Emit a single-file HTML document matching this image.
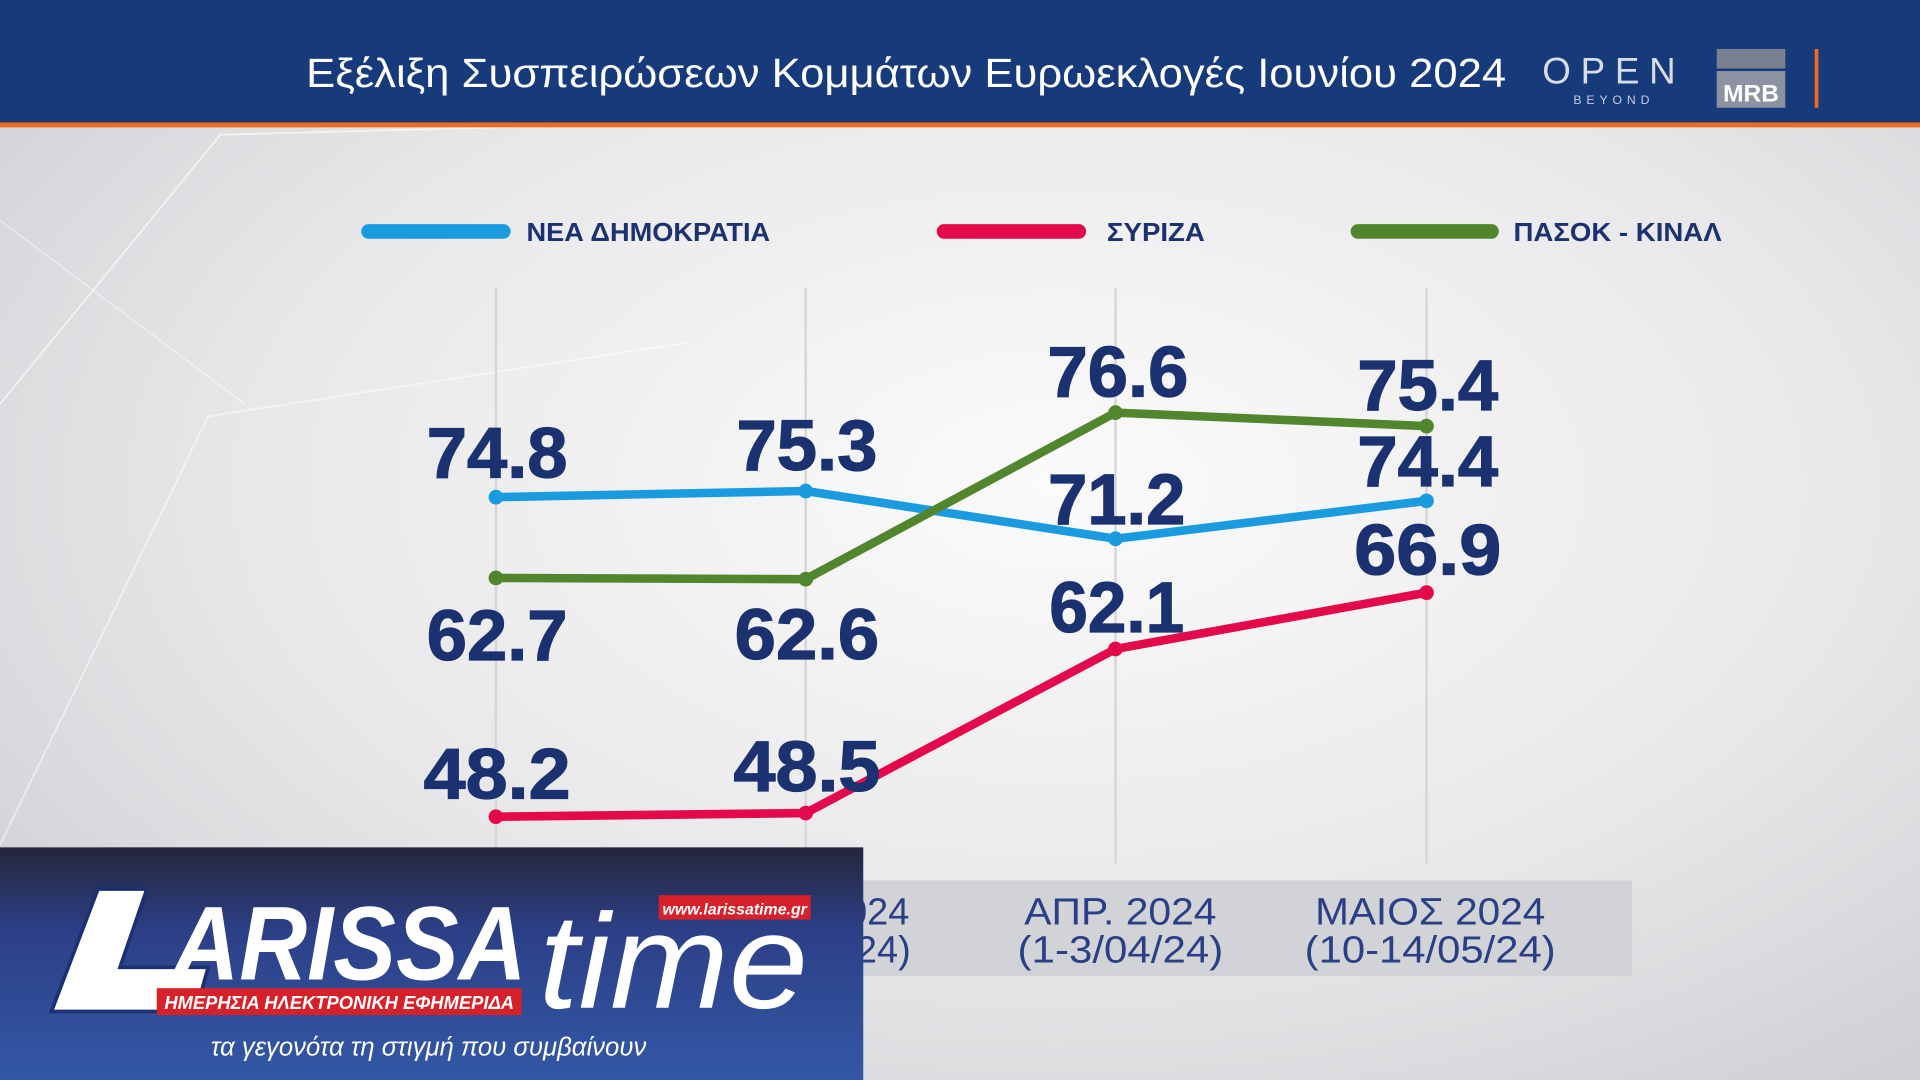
<!DOCTYPE html>
<html><head><meta charset="utf-8"><style>
html,body{margin:0;padding:0;width:1920px;height:1080px;overflow:hidden;background:#e6e6e8}
svg{display:block}
text{font-family:"Liberation Sans","DejaVu Sans",sans-serif}
</style></head><body>
<svg width="1920" height="1080" viewBox="0 0 1568 882" preserveAspectRatio="none">
<defs>
<radialGradient id="bg" cx="0.55" cy="0.45" r="0.7">
<stop offset="0" stop-color="#fbfbfb"/><stop offset="0.6" stop-color="#e8e8ea"/><stop offset="1" stop-color="#cfd0d4"/>
</radialGradient>
<linearGradient id="logo" x1="0" y1="0" x2="0" y2="1">
<stop offset="0" stop-color="#25263a"/><stop offset="0.35" stop-color="#2c3f86"/><stop offset="1" stop-color="#3358a6"/>
</linearGradient>
</defs>
<rect width="1568" height="882" fill="url(#bg)"/>
<polyline points="0,330 180,110 560,100" fill="none" stroke="#ffffff" stroke-width="1.5" opacity="0.6"/>
<polyline points="0,690 170,340 560,280" fill="none" stroke="#ffffff" stroke-width="1.5" opacity="0.5"/>
<line x1="0" y1="180" x2="200" y2="330" stroke="#fff" stroke-width="1" opacity="0.5"/>
<rect width="1568" height="101" fill="#163a7a"/>
<rect y="100" width="1568" height="4" fill="#f26a21"/>
<text x="1230" y="71" text-anchor="end" font-size="33" fill="#fff" textLength="980" lengthAdjust="spacingAndGlyphs">Εξέλιξη Συσπειρώσεων Κομμάτων Ευρωεκλογές Ιουνίου 2024</text>
<text x="1318" y="68" text-anchor="middle" font-size="30" fill="#d8dce8" letter-spacing="8">OPEN</text>
<text x="1318" y="85" text-anchor="middle" font-size="10" fill="#c8cce0" letter-spacing="4">BEYOND</text>
<rect x="1402" y="40" width="56" height="16" fill="#7a8090"/>
<rect x="1402" y="58" width="56" height="30" fill="#8c92a2"/>
<text x="1430" y="83" text-anchor="middle" font-size="20" font-weight="bold" fill="#fff">MRB</text>
<rect x="1482" y="40" width="3" height="48" fill="#f26a21"/>
<line x1="301" y1="189" x2="411" y2="189" stroke="#1a9be0" stroke-width="12" stroke-linecap="round"/>
<text x="430" y="197" font-size="21" font-weight="bold" fill="#1b3170" textLength="199" lengthAdjust="spacingAndGlyphs">ΝΕΑ ΔΗΜΟΚΡΑΤΙΑ</text>
<line x1="771" y1="189" x2="881" y2="189" stroke="#e3094b" stroke-width="12" stroke-linecap="round"/>
<text x="904" y="197" font-size="21" font-weight="bold" fill="#1b3170" textLength="80" lengthAdjust="spacingAndGlyphs">ΣΥΡΙΖΑ</text>
<line x1="1109" y1="189" x2="1218" y2="189" stroke="#52862e" stroke-width="12" stroke-linecap="round"/>
<text x="1236" y="197" font-size="21" font-weight="bold" fill="#1b3170" textLength="170" lengthAdjust="spacingAndGlyphs">ΠΑΣΟΚ - ΚΙΝΑΛ</text>
<g stroke="#d4d6da" stroke-width="2">
<line x1="405" y1="235" x2="405" y2="705"/><line x1="658" y1="235" x2="658" y2="705"/>
<line x1="911" y1="235" x2="911" y2="705"/><line x1="1165" y1="235" x2="1165" y2="705"/>
</g>
<rect x="690" y="719" width="643" height="78" fill="#d2d3d7"/>
<g font-size="31" fill="#2a3f86" text-anchor="middle">
<text x="668" y="755">ΜΑΡ. 2024</text><text x="668" y="786">(1-3/03/24)</text>
<text x="915" y="755" textLength="157" lengthAdjust="spacingAndGlyphs">ΑΠΡ. 2024</text><text x="915" y="786" textLength="168" lengthAdjust="spacingAndGlyphs">(1-3/04/24)</text>
<text x="1168" y="755" textLength="188" lengthAdjust="spacingAndGlyphs">ΜΑΙΟΣ 2024</text><text x="1168" y="786" textLength="205" lengthAdjust="spacingAndGlyphs">(10-14/05/24)</text>
</g>
<g fill="none" stroke-width="7" stroke-linejoin="round" stroke-linecap="round">
<polyline points="405,406 658,401 911,440 1165,409" stroke="#1a9be0"/>
<polyline points="405,472 658,473 911,337 1165,348" stroke="#52862e"/>
<polyline points="405,667 658,664 911,530 1165,484" stroke="#e3094b"/>
</g>
<g fill="#1a9be0"><circle cx="405" cy="406" r="6"/><circle cx="658" cy="401" r="6"/><circle cx="911" cy="440" r="6"/><circle cx="1165" cy="409" r="6"/></g>
<g fill="#52862e"><circle cx="405" cy="472" r="6"/><circle cx="658" cy="473" r="6"/><circle cx="911" cy="337" r="6"/><circle cx="1165" cy="348" r="6"/></g>
<g fill="#e3094b"><circle cx="405" cy="667" r="6"/><circle cx="658" cy="664" r="6"/><circle cx="911" cy="530" r="6"/><circle cx="1165" cy="484" r="6"/></g>
<g font-size="58" font-weight="bold" fill="#1b3170" text-anchor="middle" stroke="#1b3170" stroke-width="1">
<text x="406" y="390" textLength="115" lengthAdjust="spacingAndGlyphs">74.8</text><text x="659" y="384" textLength="115" lengthAdjust="spacingAndGlyphs">75.3</text>
<text x="913" y="324" textLength="115" lengthAdjust="spacingAndGlyphs">76.6</text><text x="1166" y="335" textLength="115" lengthAdjust="spacingAndGlyphs">75.4</text>
<text x="1166" y="397" textLength="115" lengthAdjust="spacingAndGlyphs">74.4</text><text x="912" y="428" textLength="112" lengthAdjust="spacingAndGlyphs">71.2</text>
<text x="1166" y="469" textLength="120" lengthAdjust="spacingAndGlyphs">66.9</text><text x="912" y="516" textLength="110" lengthAdjust="spacingAndGlyphs">62.1</text>
<text x="406" y="539" textLength="115" lengthAdjust="spacingAndGlyphs">62.7</text><text x="659" y="538" textLength="118" lengthAdjust="spacingAndGlyphs">62.6</text>
<text x="406" y="652" textLength="120" lengthAdjust="spacingAndGlyphs">48.2</text><text x="659" y="646" textLength="120" lengthAdjust="spacingAndGlyphs">48.5</text>
</g>
<rect x="0" y="692" width="705" height="190" fill="url(#logo)"/>
<polygon points="80,726 120,726 98,790 170,790 160,826 42,826" fill="#fff" stroke="#1b3170" stroke-width="3"/>
<text x="140" y="800" font-size="86" font-weight="bold" font-style="italic" fill="#fff" textLength="290" lengthAdjust="spacingAndGlyphs">ARISSA</text>
<text x="440" y="823" font-size="110" font-style="italic" font-family="Liberation Serif,serif" fill="#fff" textLength="220" lengthAdjust="spacingAndGlyphs">time</text>
<rect x="538" y="731" width="124" height="20" fill="#d6202a"/>
<text x="600" y="747" text-anchor="middle" font-size="13" font-weight="bold" font-style="italic" fill="#fff">www.larissatime.gr</text>
<rect x="128" y="807" width="298" height="22" fill="#d6202a"/>
<text x="277" y="824" text-anchor="middle" font-size="15" font-weight="bold" font-style="italic" fill="#fff">ΗΜΕΡΗΣΙΑ ΗΛΕΚΤΡΟΝΙΚΗ ΕΦΗΜΕΡΙΔΑ</text>
<text x="350" y="862" text-anchor="middle" font-size="21" font-style="italic" fill="#fff">τα γεγονότα τη στιγμή που συμβαίνουν</text>
</svg>
</body></html>
